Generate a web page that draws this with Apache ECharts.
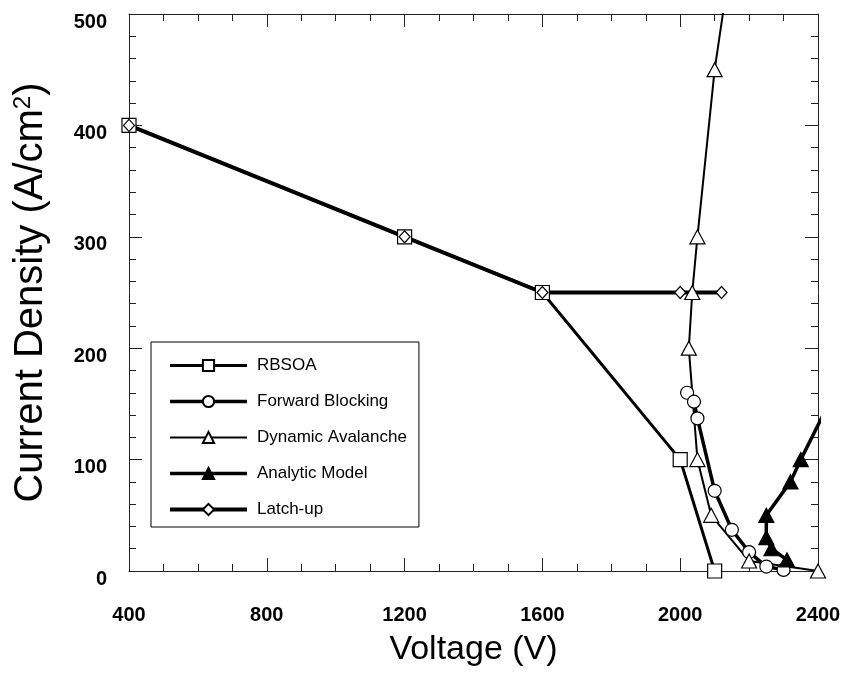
<!DOCTYPE html>
<html>
<head>
<meta charset="utf-8">
<script src="https://cdn.jsdelivr.net/npm/echarts@6/dist/echarts.min.js"></script>
<style>
  html, body { margin: 0; padding: 0; background: #fff; overflow: hidden; }
  #chart { width: 841px; height: 679px; }
</style>
</head>
<body>
<div id="chart"></div>
<script>
// Safe operating area boundaries: voltage (V) vs current density (A/cm²)
const seriesNames = ['RBSOA', 'Forward Blocking', 'Dynamic Avalanche', 'Analytic Model', 'Latch-up'];

const rbsoaV = [400, 1200, 1600, 2000, 2100];
const rbsoaJ = [400, 300, 250, 100, 0];

const forwardV = [2020, 2040, 2050, 2100, 2150, 2200, 2250, 2300];
const forwardJ = [160, 152, 137, 72, 37, 17, 4, 1];

const avalancheV = [2400, 2200, 2090, 2050, 2025, 2035, 2050, 2100, 2150];
const avalancheJ = [0, 9, 50, 100, 200, 250, 300, 450, 555];

const analyticV = [2310, 2265, 2250, 2250, 2320, 2350, 2450];
const analyticJ = [10, 20, 30, 50, 80, 100, 162];

const latchV = [400, 1200, 1600, 2000, 2120];
const latchJ = [400, 300, 250, 250, 250];

const xTicks = [400, 800, 1200, 1600, 2000, 2400];
const yTicks = [0, 100, 200, 300, 400, 500];

const FONT = "'Liberation Sans', Arial, Helvetica, sans-serif";
const INK = '#000';
const FRAME = '#222';

// line widths per series, shared by plot and legend
const lineWidths = { 'RBSOA': 3, 'Forward Blocking': 3.5, 'Dynamic Avalanche': 2, 'Analytic Model': 3.5, 'Latch-up': 4 };

function pairs(xs, ys) { return xs.map((x, i) => [x, ys[i]]); }

function lineSeries(name, xs, ys, symbol, size, filled) {
  return {
    name: name,
    type: 'line',
    data: pairs(xs, ys),
    symbol: symbol,
    symbolSize: size,
    showAllSymbol: true,
    clip: true,
    animation: false,
    lineStyle: { color: INK, width: lineWidths[name] },
    itemStyle: { color: filled ? INK : '#fff', borderColor: INK, borderWidth: 1.2 },
    emphasis: { disabled: true },
    z: 3
  };
}

const tickCommon = { show: true, inside: true, length: 13, lineStyle: { color: FRAME, width: 1 } };
const plainNumber = (v) => String(v);

const option = {
  backgroundColor: '#fff',
  animation: false,
  grid: { left: 129, right: 23, top: 14, bottom: 108, containLabel: false, outerBoundsMode: 'none' },
  legend: {
    orient: 'vertical',
    left: 151,
    top: 342,
    padding: [15, 12, 9, 17],
    itemWidth: 77,
    itemHeight: 14,
    itemGap: 19,
    borderColor: INK,
    borderWidth: 1,
    backgroundColor: '#fff',
    selectedMode: false,
    data: seriesNames.map((n) => ({ name: n, lineStyle: { width: lineWidths[n], color: INK } })),
    textStyle: { fontFamily: FONT, fontSize: 17, color: INK, padding: [0, 0, 0, 5] }
  },
  xAxis: [
    {
      type: 'value', min: xTicks[0], max: xTicks[xTicks.length - 1], interval: 400,
      position: 'bottom',
      name: 'Voltage (V)', nameLocation: 'middle', nameGap: 62,
      nameTextStyle: { fontFamily: FONT, fontSize: 34, color: INK },
      axisLine: { show: true, onZero: false, lineStyle: { color: FRAME, width: 1 } },
      axisTick: tickCommon,
      minorTick: { show: true, splitNumber: 4, length: 7, lineStyle: { color: FRAME, width: 1 } },
      splitLine: { show: false },
      axisLabel: { margin: 34, fontFamily: FONT, fontSize: 20, fontWeight: 'bold', color: INK, formatter: plainNumber }
    },
    {
      type: 'value', min: xTicks[0], max: xTicks[xTicks.length - 1], interval: 400,
      position: 'top',
      axisLine: { show: true, onZero: false, lineStyle: { color: FRAME, width: 1 } },
      axisTick: tickCommon,
      minorTick: { show: true, splitNumber: 4, length: 7, lineStyle: { color: FRAME, width: 1 } },
      splitLine: { show: false },
      axisLabel: { show: false }
    }
  ],
  yAxis: [
    {
      type: 'value', min: yTicks[0], max: yTicks[yTicks.length - 1], interval: 100,
      position: 'left',
      name: '{t|Current Density (A/cm}{s|2}{t|)}',
      nameLocation: 'middle', nameGap: 78, nameRotate: 90,
      nameTextStyle: {
        color: INK,
        rich: {
          t: { fontFamily: FONT, fontSize: 40, color: INK },
          s: { fontFamily: FONT, fontSize: 24, color: INK, verticalAlign: 'top', padding: [0, 0, 16, 0] }
        }
      },
      axisLine: { show: true, onZero: false, lineStyle: { color: FRAME, width: 1 } },
      axisTick: tickCommon,
      minorTick: { show: true, splitNumber: 5, length: 7, lineStyle: { color: FRAME, width: 1 } },
      splitLine: { show: false },
      axisLabel: {
        margin: 22, fontFamily: FONT, fontSize: 20, fontWeight: 'bold', color: INK,
        formatter: (v) => '{v|' + v + '}',
        rich: { v: { fontFamily: FONT, fontSize: 20, fontWeight: 'bold', color: INK, padding: [16, 0, 0, 0] } }
      }
    },
    {
      type: 'value', min: yTicks[0], max: yTicks[yTicks.length - 1], interval: 100,
      position: 'right',
      axisLine: { show: true, onZero: false, lineStyle: { color: FRAME, width: 1 } },
      axisTick: tickCommon,
      minorTick: { show: true, splitNumber: 5, length: 7, lineStyle: { color: FRAME, width: 1 } },
      splitLine: { show: false },
      axisLabel: { show: false }
    }
  ],
  series: [
    lineSeries('RBSOA', rbsoaV, rbsoaJ, 'rect', 14, false),
    lineSeries('Forward Blocking', forwardV, forwardJ, 'circle', 13, false),
    lineSeries('Dynamic Avalanche', avalancheV, avalancheJ, 'triangle', [15, 14], false),
    lineSeries('Analytic Model', analyticV, analyticJ, 'triangle', [15, 14], true),
    lineSeries('Latch-up', latchV, latchJ, 'diamond', [11, 12], false)
  ]
};

const chart = echarts.init(document.getElementById('chart'), null, { renderer: 'canvas' });
chart.setOption(option);
</script>
</body>
</html>
